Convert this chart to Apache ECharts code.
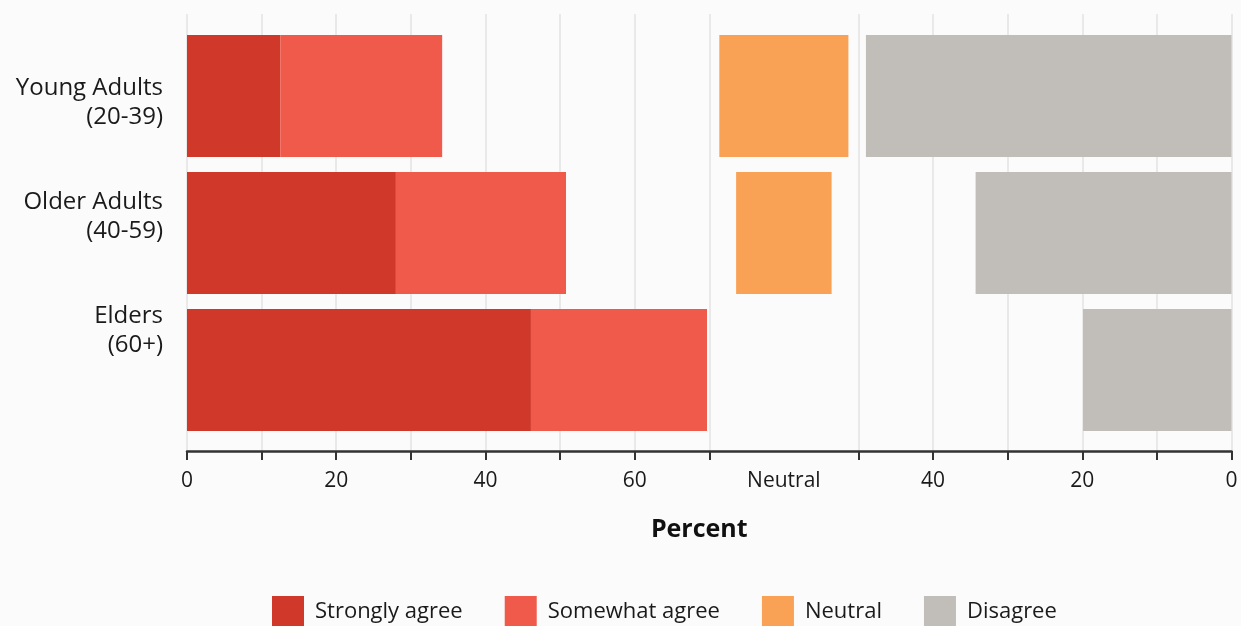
<!DOCTYPE html>
<html>
<head>
<meta charset="utf-8">
<script src="https://cdn.jsdelivr.net/npm/echarts@6/dist/echarts.min.js"></script>
<style>
  html, body { margin: 0; padding: 0; background: #fbfbfb; }
  #chart { width: 1241px; height: 626px; }
</style>
</head>
<body>
<div id="chart"></div>
<script>
// Survey groups, top to bottom
const categories = ['Young Adults\n(20-39)', 'Older Adults\n(40-59)', 'Elders\n(60+)'];

// Percent of respondents per answer
const stronglyAgree = [12.5, 28.0, 46.1];
const somewhatAgree = [21.7, 22.8, 23.6];
const neutral       = [17.3, 12.8, 0];
const disagree      = [49.0, 34.3, 19.9];

// Shared axis: agree panel 0..70, neutral panel centred on 80, disagree panel reversed 90..140
const axisMax = 140;
const neutralCenter = 80;
const tickValues  = [0, 10, 20, 30, 40, 50, 60, 70, 90, 100, 110, 120, 130, 140];
const labelValues = [0, 20, 40, 60, 80, 100, 120, 140];
const labelText   = { 0: '0', 20: '20', 40: '40', 60: '60', 80: 'Neutral', 100: '40', 120: '20', 140: '0' };

const colors = {
  strong: '#d0392a',
  somewhat: '#f05a4b',
  neutral: '#f9a155',
  disagree: '#c1bdb9'
};

// Invisible spacers that position the neutral and disagree segments on the shared axis
const gapBeforeNeutral = categories.map((_, i) =>
  neutralCenter - neutral[i] / 2 - (stronglyAgree[i] + somewhatAgree[i]));
const gapBeforeDisagree = categories.map((_, i) =>
  (axisMax - disagree[i]) - (neutralCenter + neutral[i] / 2));

const FONT = '"Open Sans", "Noto Sans", sans-serif';
const TEXT = '#1a1a1a';
const chart = echarts.init(document.getElementById('chart'), null, { renderer: 'canvas' });

const barBase = { type: 'bar', stack: 'all', xAxisIndex: 1, yAxisIndex: 1, barWidth: 122, silent: true };

chart.setOption({
  animation: false,
  backgroundColor: '#fbfbfb',
  textStyle: { fontFamily: FONT, color: TEXT },
  grid: [
    { left: 187, right: 9.5, top: 14, height: 437 },     // axis, ticks and grid lines
    { left: 187, right: 9.5, top: 27.5, height: 411 },   // bars
    { left: 187, right: 9.5, top: 46, height: 341 }      // group labels
  ],
  xAxis: [
    {
      gridIndex: 0, type: 'value', min: 0, max: axisMax, interval: 10,
      name: 'Percent', nameLocation: 'middle', nameGap: 66,
      nameTextStyle: { fontFamily: FONT, fontWeight: 'bold', fontSize: 25, color: '#111', padding: [0, 20, 0, 0] },
      axisLine: { show: true, lineStyle: { color: '#333', width: 2.5 } },
      axisTick: { show: true, length: 9, customValues: tickValues, lineStyle: { color: '#333', width: 2 } },
      axisLabel: {
        customValues: labelValues, margin: 20, fontSize: 21, color: TEXT, fontFamily: FONT,
        formatter: v => labelText[v]
      },
      splitLine: { show: true, lineStyle: { color: '#e3e3e3', width: 1.5 } }
    },
    { gridIndex: 1, type: 'value', min: 0, max: axisMax, show: false },
    { gridIndex: 2, type: 'value', min: 0, max: axisMax, show: false }
  ],
  yAxis: [
    { gridIndex: 0, type: 'value', min: 0, max: 1, show: false },
    { gridIndex: 1, type: 'category', inverse: true, data: categories, show: false },
    {
      gridIndex: 2, type: 'category', inverse: true, data: categories,
      axisLine: { show: false }, axisTick: { show: false },
      axisLabel: { margin: 24, fontSize: 24, lineHeight: 29, color: TEXT, fontFamily: FONT, align: 'right' }
    }
  ],
  legend: {
    data: ['Strongly agree', 'Somewhat agree', 'Neutral', 'Disagree'],
    left: 272, top: 596, padding: 0,
    itemWidth: 32, itemHeight: 32, itemGap: 42,
    icon: 'rect',
    textStyle: { fontFamily: FONT, fontSize: 22, color: TEXT, padding: [0, 0, 0, 6] },
    selectedMode: false
  },
  series: [
    Object.assign({}, barBase, { name: 'Strongly agree', data: stronglyAgree, itemStyle: { color: colors.strong } }),
    Object.assign({}, barBase, { name: 'Somewhat agree', data: somewhatAgree, itemStyle: { color: colors.somewhat } }),
    Object.assign({}, barBase, { name: 'spacer-1', data: gapBeforeNeutral, itemStyle: { color: 'transparent' } }),
    Object.assign({}, barBase, { name: 'Neutral', data: neutral, itemStyle: { color: colors.neutral } }),
    Object.assign({}, barBase, { name: 'spacer-2', data: gapBeforeDisagree, itemStyle: { color: 'transparent' } }),
    Object.assign({}, barBase, { name: 'Disagree', data: disagree, itemStyle: { color: colors.disagree } })
  ]
});
</script>
</body>
</html>
